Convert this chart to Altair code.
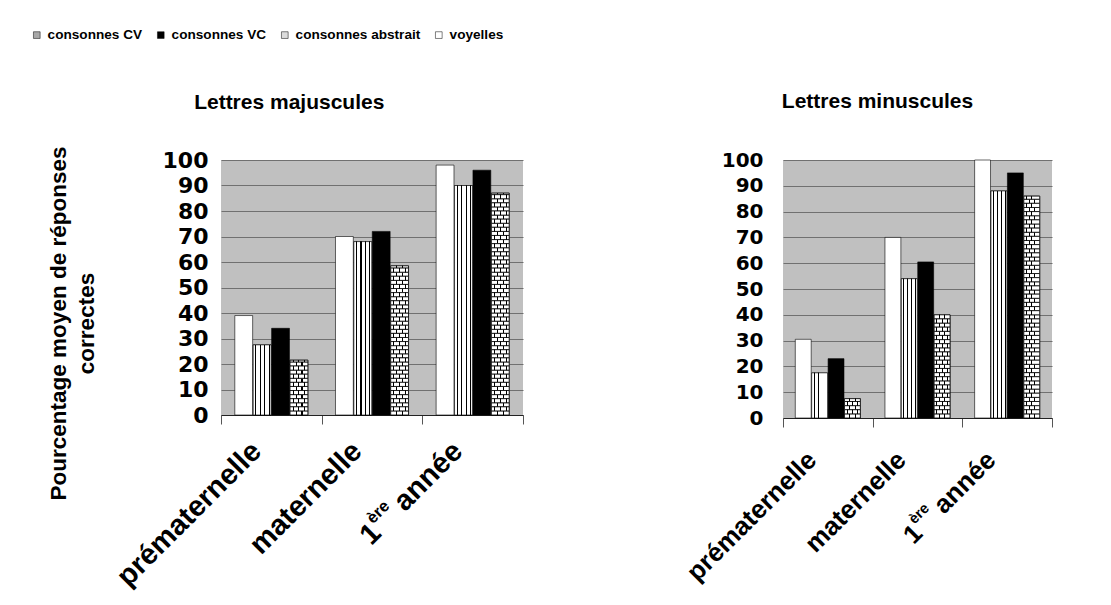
import altair as alt
import pandas as pd

categories = ["prématernelle", "maternelle", "1ère année"]
series_legend = ["consonnes CV", "consonnes VC", "consonnes abstrait", "voyelles"]
series_bars = ["voyelles", "consonnes CV", "consonnes VC", "consonnes abstrait"]
legend_fill = ["#a8a8a8", "black", "#dcdcdc", "white"]

maj_voyelles = [39, 70, 98]
maj_cv = [27.5, 68, 90]
maj_vc = [34, 72, 96]
maj_abstrait = [21.5, 58.5, 87]

min_voyelles = [30.5, 70, 100]
min_cv = [17.5, 54, 88]
min_vc = [23, 60.5, 95]
min_abstrait = [7.5, 40, 86]

label_main = ["prématernelle", "maternelle", "année"]
label_sup = ["", "", "ère"]
label_pre = ["", "", "1"]

y_ticks = list(range(0, 101, 10))
BRICK = 1.6


def grad(segments):
    stops = [{"offset": 0, "color": "white"}]
    for a, b in segments:
        stops += [{"offset": a, "color": "white"}, {"offset": a, "color": "black"},
                  {"offset": b, "color": "black"}, {"offset": b, "color": "white"}]
    stops.append({"offset": 1, "color": "white"})
    return {"gradient": "linear", "x1": 0, "y1": 0, "x2": 1, "y2": 0, "stops": stops}


cv_fill = grad([(p, p + 0.06) for p in (0.12, 0.37, 0.62, 0.87)])
brick_even = grad([(p, p + 0.06) for p in (0.31, 0.64)])
brick_odd = grad([(p, p + 0.06) for p in (0.14, 0.47, 0.80)])


def panel(voy, cv, vc, ab, title_text, w, h, fs, ylab_fs, lab_pad, dx0, dy0, tdx, toff, ytitle):
    vals = {"voyelles": voy, "consonnes CV": cv, "consonnes VC": vc, "consonnes abstrait": ab}
    bars = pd.DataFrame([{"cat": c, "series": s, "value": vals[s][i]}
                         for i, c in enumerate(categories) for s in series_bars])
    rows = []
    for i, c in enumerate(categories):
        v = ab[i]
        k = 0
        lo = 0.0
        while lo < v - 0.05:
            rows.append({"cat": c, "series": "consonnes abstrait", "lo": lo,
                         "hi": min(lo + BRICK, v), "par": k % 2})
            k += 1
            lo += BRICK
    rows = pd.DataFrame(rows)
    labs = pd.DataFrame({"cat": categories, "main": label_main, "sup": label_sup,
                         "pre": label_pre, "zero": [0, 0, 0]})

    xs = alt.Scale(domain=categories, paddingInner=0, paddingOuter=0)
    xos = alt.Scale(domain=series_bars, paddingInner=0.03, paddingOuter=0.75)
    ys = alt.Scale(domain=[0, 100], nice=False)
    xaxis = alt.Axis(labels=False, title=None, tickBand="extent", tickSize=9,
                     tickColor="#555555", domainColor="#222222", grid=False)
    yargs = dict(values=y_ticks, grid=True, gridColor="#707070", ticks=False, domain=False,
                 labelFont="DejaVu Sans", labelFontWeight="bold", labelFontSize=ylab_fs,
                 labelColor="black", labelPadding=lab_pad)
    if ytitle:
        yargs.update(title=["Pourcentage moyen de réponses", "correctes"],
                     titleFont="Liberation Sans", titleFontSize=22.5, titleFontWeight="bold",
                     titleColor="black", titleAngle=270, titleAlign="center",
                     titleBaseline="top", titleX=-174, titleY=163, titleLineHeight=28)
    else:
        yargs.update(title=None)
    yaxis = alt.Axis(**yargs)

    X = alt.X("cat:N", scale=xs, axis=xaxis)
    XO = alt.XOffset("series:N", scale=xos)

    base = alt.Chart(bars).mark_bar(stroke="black", strokeWidth=0.6).encode(
        x=X, xOffset=XO,
        y=alt.Y("value:Q", scale=ys, axis=yaxis),
        fill=alt.Fill("series:N", scale=alt.Scale(domain=series_legend, range=legend_fill),
                      legend=alt.Legend(title=None, orient="none", direction="horizontal",
                                        legendX=-191, legendY=-132, symbolType="square",
                                        symbolSize=45, symbolStrokeWidth=0.5,
                                        labelFont="Liberation Sans",
                                        labelFontSize=13.6, labelFontWeight="bold",
                                        labelColor="black", columnPadding=11,
                                        labelOffset=4)),
    )
    cvl = alt.Chart(bars).transform_filter(alt.datum.series == "consonnes CV").mark_bar(
        fill=cv_fill, stroke="black", strokeWidth=0.6).encode(
        x=X, xOffset=XO, y=alt.Y("value:Q", scale=ys, axis=yaxis))
    br_e = alt.Chart(rows).transform_filter(alt.datum.par == 0).mark_bar(
        fill=brick_even, stroke="black", strokeWidth=0.8).encode(
        x=X, xOffset=XO, y=alt.Y("lo:Q", scale=ys, axis=yaxis), y2="hi:Q")
    br_o = alt.Chart(rows).transform_filter(alt.datum.par == 1).mark_bar(
        fill=brick_odd, stroke="black", strokeWidth=0.8).encode(
        x=X, xOffset=XO, y=alt.Y("lo:Q", scale=ys, axis=yaxis), y2="hi:Q")

    fsup = round(fs * 0.57, 1)
    dx_sup = dx0 - 2.89 * fs - 0.22 * fs
    dx_pre = dx_sup - 1.501 * fsup - 0.5
    tstyle = dict(angle=315, align="right", baseline="middle", font="Liberation Sans",
                  fontWeight="bold", color="black")
    t_main = alt.Chart(labs).mark_text(dx=dx0, dy=dy0, fontSize=fs, **tstyle).encode(
        x=X, y=alt.Y("zero:Q", scale=ys, axis=yaxis), text="main:N")
    t_sup = alt.Chart(labs).transform_filter(alt.datum.sup != "").mark_text(
        dx=dx_sup, dy=dy0 - 10, fontSize=fsup, **tstyle).encode(
        x=X, y=alt.Y("zero:Q", scale=ys, axis=yaxis), text="sup:N")
    t_pre = alt.Chart(labs).transform_filter(alt.datum.pre != "").mark_text(
        dx=dx_pre, dy=dy0, fontSize=fs, **tstyle).encode(
        x=X, y=alt.Y("zero:Q", scale=ys, axis=yaxis), text="pre:N")

    return alt.layer(base, cvl, br_e, br_o, t_main, t_sup, t_pre).properties(
        width=w, height=h,
        title=alt.TitleParams(title_text, font="Liberation Sans", fontSize=21,
                              fontWeight="bold", color="black", frame="bounds",
                              anchor="middle", offset=toff, dx=tdx))


left = panel(maj_voyelles, maj_cv, maj_vc, maj_abstrait, "Lettres majuscules",
             302, 255, 29, 22, 13, -33, 12, 4, 33, True)
right = panel(min_voyelles, min_cv, min_vc, min_abstrait, "Lettres minuscules",
              269, 258, 26, 20, 20, -38, 16, 10, 38, False)

chart = alt.hconcat(left, right, spacing=158).resolve_scale(
    xOffset="independent", x="independent", y="independent"
).properties(
    padding={"left": 22, "top": 20, "right": 2, "bottom": 2},
    background="white",
).configure_view(fill="#c0c0c0", stroke=None)

chart.save("out.html", embed_options={"renderer": "svg", "actions": False})
